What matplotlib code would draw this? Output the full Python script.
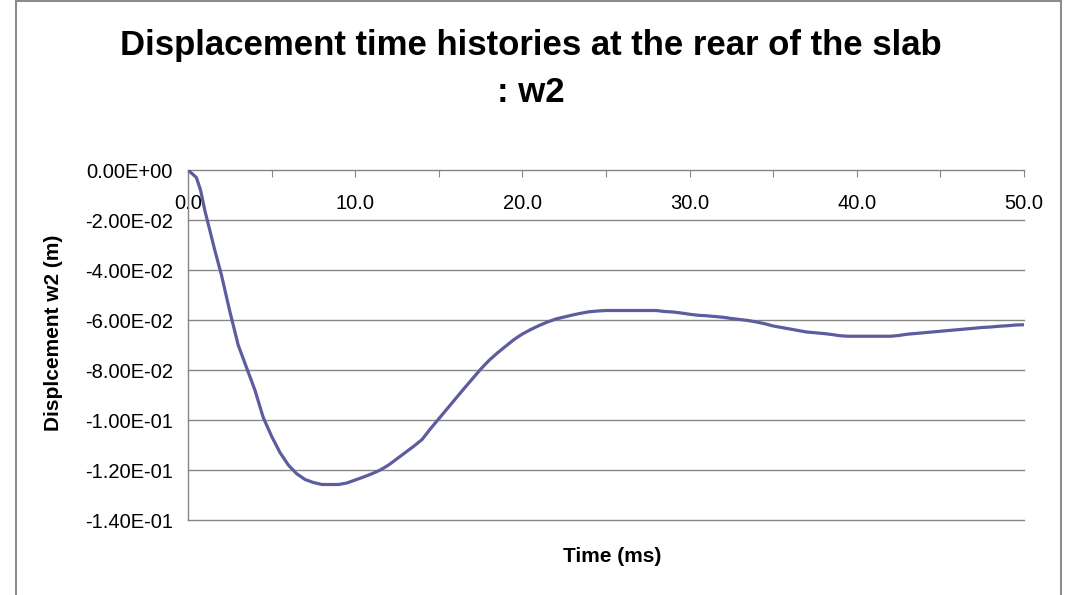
import matplotlib
matplotlib.use("Agg")
import matplotlib.pyplot as plt
from matplotlib.lines import Line2D

# Time (ms) and rear-face displacement w2 (m)
time_ms = [0.0, 0.5, 0.75, 1.0, 1.3, 1.6, 2.0, 2.5, 3.0, 3.5, 4.0, 4.5, 5.0, 5.5,
           6.0, 6.5, 7.0, 7.5, 8.0, 8.5, 9.0, 9.5, 10.0, 10.5, 11.0, 11.5, 12.0,
           12.5, 13.0, 13.5, 14.0, 14.5, 15.0, 15.5, 16.0, 16.5, 17.0, 17.5, 18.0,
           18.5, 19.0, 19.5, 20.0, 20.5, 21.0, 21.5, 22.0, 22.5, 23.0, 23.5, 24.0,
           24.5, 25.0, 26.0, 27.0, 28.0, 28.5, 29.0, 29.5, 30.0, 30.5, 31.0, 31.5,
           32.0, 32.5, 33.0, 33.5, 34.0, 34.5, 35.0, 35.5, 36.0, 36.5, 37.0, 37.5,
           38.0, 38.5, 39.0, 39.5, 40.0, 41.0, 42.0, 42.5, 43.0, 43.5, 44.0, 44.5,
           45.0, 45.5, 46.0, 46.5, 47.0, 47.5, 48.0, 48.5, 49.0, 49.5, 50.0]
w2 = [0.0, -0.0030, -0.0080, -0.0160, -0.0240, -0.0320, -0.0420, -0.0565, -0.0700,
      -0.0790, -0.0880, -0.0990, -0.1065, -0.1130, -0.1180, -0.1215, -0.1238,
      -0.1250, -0.1258, -0.1258, -0.1258, -0.1252, -0.1240, -0.1228, -0.1215,
      -0.1200, -0.1180, -0.1155, -0.1130, -0.1105, -0.1078, -0.1035, -0.0995,
      -0.0955, -0.0915, -0.0875, -0.0836, -0.0797, -0.0762, -0.0732, -0.0705,
      -0.0678, -0.0656, -0.0638, -0.0622, -0.0608, -0.0596, -0.0588, -0.0580,
      -0.0573, -0.0567, -0.0564, -0.0562, -0.0562, -0.0562, -0.0562, -0.0566,
      -0.0568, -0.0572, -0.0577, -0.0581, -0.0583, -0.0586, -0.0589, -0.0594,
      -0.0598, -0.0602, -0.0608, -0.0615, -0.0624, -0.0630, -0.0636, -0.0642,
      -0.0648, -0.0651, -0.0654, -0.0658, -0.0663, -0.0665, -0.0665, -0.0665,
      -0.0665, -0.0662, -0.0657, -0.0654, -0.0651, -0.0648, -0.0645, -0.0642,
      -0.0639, -0.0636, -0.0633, -0.0630, -0.0628, -0.0625, -0.0623, -0.0620,
      -0.0619]

x_ticks = [0, 5, 10, 15, 20, 25, 30, 35, 40, 45, 50]
x_labels = ["0.0", "", "10.0", "", "20.0", "", "30.0", "", "40.0", "", "50.0"]
y_ticks = [0.0, -0.02, -0.04, -0.06, -0.08, -0.10, -0.12, -0.14]
y_labels = ["0.00E+00", "-2.00E-02", "-4.00E-02", "-6.00E-02", "-8.00E-02",
            "-1.00E-01", "-1.20E-01", "-1.40E-01"]

plt.rcParams["font.family"] = ["Liberation Sans", "DejaVu Sans"]

W, H = 1065, 595
fig = plt.figure(figsize=(W / 100, H / 100), dpi=100)
fig.patch.set_facecolor("white")

# chart frame
frame_kw = dict(color="#8c8c8c", lw=1.5, transform=fig.transFigure)
fig.add_artist(Line2D([15.5 / W, 15.5 / W], [0, 1], **frame_kw))
fig.add_artist(Line2D([1060.5 / W, 1060.5 / W], [0, 1], **frame_kw))
fig.add_artist(Line2D([15.5 / W, 1060.5 / W], [1 - 0.8 / H, 1 - 0.8 / H], **frame_kw))

left, right, top, bottom = 188, 1024, 170, 520
ax = fig.add_axes([left / W, 1 - bottom / H, (right - left) / W, (bottom - top) / H])

grid_c = "#868686"
ax.plot(time_ms, w2, color="#5C5C9E", lw=2.3, solid_joinstyle="round", zorder=3)

ax.set_xlim(0, 50)
ax.set_ylim(-0.14, 0.0)
ax.set_yticks(y_ticks)
ax.set_yticklabels(y_labels)
ax.set_xticks(x_ticks)
ax.set_xticklabels(x_labels)

# horizontal gridlines, unclipped so the edge lines show at full width
for yv in y_ticks[1:]:
    ax.axhline(yv, color=grid_c, lw=1.0, clip_on=False, zorder=1)

for s in ("top", "right"):
    ax.spines[s].set_visible(False)
ax.spines["bottom"].set_position(("data", 0.0))
ax.spines["bottom"].set_color(grid_c)
ax.spines["left"].set_color(grid_c)
ax.spines["left"].set_linewidth(1.0)
ax.spines["bottom"].set_linewidth(1.0)

ax.tick_params(axis="y", length=0, pad=11, labelsize=14.5, colors="black")
ax.tick_params(axis="x", direction="out", length=5, color=grid_c, pad=12.5,
               labelsize=14.5, labelcolor="black")

fig.text(0.498, 1 - 45 / H, "Displacement time histories at the rear of the slab",
         ha="center", va="center", fontsize=25, fontweight="bold")
fig.text(0.498, 1 - 93 / H, ": w2", ha="center", va="center",
         fontsize=25, fontweight="bold")
fig.text(54 / W, 1 - 333 / H, "Displcement w2 (m)", rotation=90, ha="center",
         va="center", fontsize=15, fontweight="bold")
fig.text(612 / W, 1 - 557 / H, "Time (ms)", ha="center", va="center",
         fontsize=15, fontweight="bold")

fig.savefig("out.png", dpi=100, facecolor="white")
